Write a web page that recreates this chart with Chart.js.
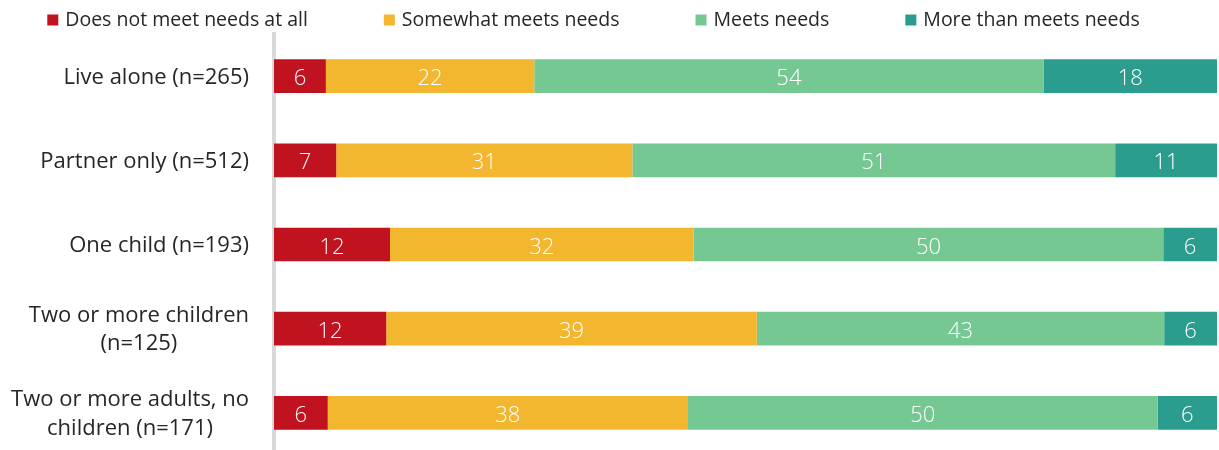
<!DOCTYPE html>
<html>
<head>
<meta charset="utf-8">
<script src="https://cdn.jsdelivr.net/npm/chart.js@4.4.1/dist/chart.umd.min.js"></script>
<style>
html,body{margin:0;padding:0;background:#ffffff;overflow:hidden;}
#wrap{width:1219px;height:450px;position:relative;overflow:hidden;}
canvas{display:block;}
</style>
</head>
<body>
<div id="wrap"><canvas id="c" width="1219" height="455"></canvas></div>
<script>
// ---- data ----
const categories = [
  ["Live alone (n=265)"],
  ["Partner only (n=512)"],
  ["One child (n=193)"],
  ["Two or more children", "(n=125)"],
  ["Two or more adults, no", "children (n=171)"]
];
const seriesNames = ["Does not meet needs at all", "Somewhat meets needs", "Meets needs", "More than meets needs"];
const seriesColors = ["#C1121F", "#F3B62F", "#76C893", "#2A9D8F"];
const doesNotMeet   = [5.5, 6.6, 12.3, 11.9, 5.7];
const somewhatMeets = [22.1, 31.4, 32.2, 39.3, 38.2];
const meetsNeeds    = [54.0, 51.2, 49.8, 43.2, 49.8];
const moreThanMeets = [18.4, 10.8, 5.7, 5.6, 6.3];
const seriesValues = [doesNotMeet, somewhatMeets, meetsNeeds, moreThanMeets];

const FONT = '"Open Sans", "Noto Sans", sans-serif';
const TEXT_COLOR = '#262626';

// value labels inside segments
const valueLabels = {
  id: 'valueLabels',
  afterDatasetsDraw(chart) {
    const ctx = chart.ctx;
    ctx.save();
    ctx.font = '300 22px ' + FONT;
    ctx.fillStyle = '#ffffff';
    ctx.textAlign = 'center';
    ctx.textBaseline = 'alphabetic';
    chart.data.datasets.forEach((ds, i) => {
      const meta = chart.getDatasetMeta(i);
      meta.data.forEach((el, j) => {
        const p = el.getProps(['x', 'y', 'base'], true);
        ctx.fillText(String(Math.round(ds.data[j])), (p.x + p.base) / 2, p.y + 9);
      });
    });
    ctx.restore();
  }
};

// category labels (lines centred on each other, block right-aligned to the axis)
const categoryLabels = {
  id: 'categoryLabels',
  afterDraw(chart) {
    const ctx = chart.ctx;
    const yScale = chart.scales.y;
    const rightEdge = chart.chartArea.left - 25;
    const lineH = 28.3;
    ctx.save();
    ctx.font = '400 22px ' + FONT;
    ctx.fillStyle = TEXT_COLOR;
    ctx.textAlign = 'center';
    ctx.textBaseline = 'alphabetic';
    chart.data.labels.forEach((lab, i) => {
      const lines = Array.isArray(lab) ? lab : [lab];
      const yc = yScale.getPixelForValue(i);
      const w = Math.max(...lines.map(l => ctx.measureText(l).width));
      const cx = rightEdge - w / 2;
      const n = lines.length;
      lines.forEach((l, k) => {
        ctx.fillText(l, cx, yc + 7.5 + (k - (n - 1) / 2) * lineH);
      });
    });
    ctx.restore();
  }
};

// legend along the top
const topLegend = {
  id: 'topLegend',
  afterDraw(chart) {
    const ctx = chart.ctx;
    const box = 11, gapText = 7, gapItem = 76;
    ctx.save();
    ctx.font = '400 19.5px ' + FONT;
    ctx.textBaseline = 'alphabetic';
    ctx.textAlign = 'left';
    const items = chart.data.datasets.map(ds => ({ label: ds.label, color: ds.backgroundColor, w: ctx.measureText(ds.label).width }));
    const total = items.reduce((s, it) => s + box + gapText + it.w, 0) + gapItem * (items.length - 1);
    let x = 593.5 - total / 2;
    items.forEach(it => {
      ctx.fillStyle = it.color;
      ctx.fillRect(x, 14.5, box, box);
      ctx.fillStyle = TEXT_COLOR;
      ctx.fillText(it.label, x + box + gapText, 26);
      x += box + gapText + it.w + gapItem;
    });
    ctx.restore();
  }
};

new Chart(document.getElementById('c'), {
  type: 'bar',
  data: {
    labels: categories,
    datasets: seriesNames.map((name, i) => ({
      label: name,
      data: seriesValues[i],
      backgroundColor: seriesColors[i],
      borderWidth: 0,
      barPercentage: 0.4,
      categoryPercentage: 1.0
    }))
  },
  options: {
    indexAxis: 'y',
    responsive: false,
    devicePixelRatio: 1,
    animation: false,
    layout: { padding: { top: 34, bottom: 0, left: 0, right: 2 } },
    plugins: { legend: { display: false }, tooltip: { enabled: false } },
    scales: {
      x: { stacked: true, min: 0, max: 100, display: false },
      y: {
        stacked: true,
        grid: { display: false },
        ticks: { display: false },
        border: { display: true, color: '#d9d9d9', width: 4 },
        afterFit(scale) { scale.width = 274; }
      }
    }
  },
  plugins: [valueLabels, categoryLabels, topLegend]
});
</script>
</body>
</html>
